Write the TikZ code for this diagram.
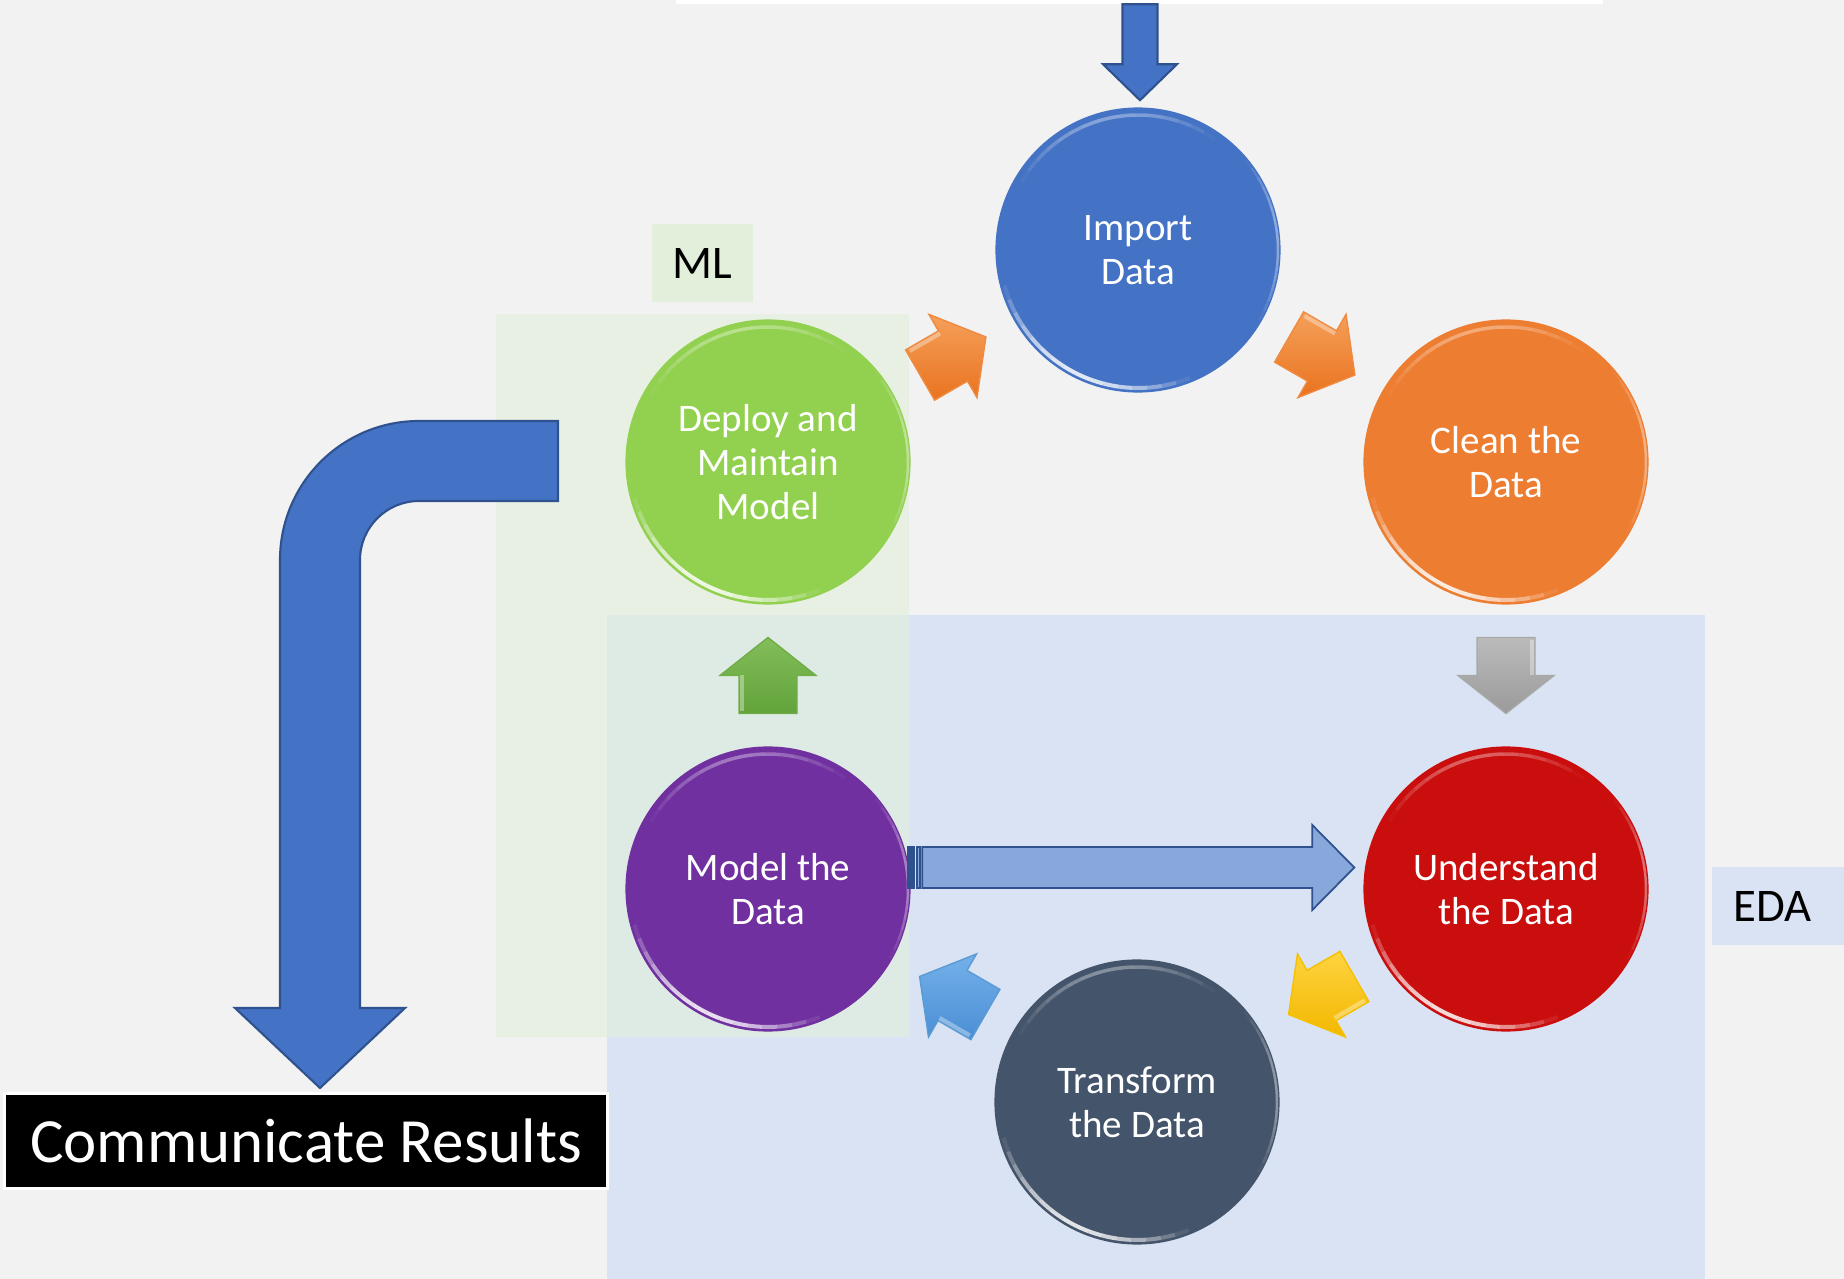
\documentclass[tikz,border=0pt]{standalone}
\usepackage{fontspec}
\setmainfont{Carlito}
\usetikzlibrary{calc}

\definecolor{bgray}{HTML}{F2F2F2}
\definecolor{edafill}{HTML}{DAE3F3}
\definecolor{mlfill}{HTML}{E2EFDA}
\definecolor{impblue}{HTML}{4472C4}
\definecolor{cleanorange}{HTML}{ED7D31}
\definecolor{deploygreen}{HTML}{92D050}
\definecolor{modelpurple}{HTML}{7030A0}
\definecolor{undred}{HTML}{CA0D0D}
\definecolor{transslate}{HTML}{44546A}
\definecolor{bluedge}{HTML}{2F528F}
\definecolor{paleblue}{HTML}{88A7DB}
\definecolor{orL}{HTML}{F5A05A}\definecolor{orD}{HTML}{E9731F}\definecolor{orE}{HTML}{F08A40}
\definecolor{grL}{HTML}{BBBBBB}\definecolor{grD}{HTML}{9A9A9A}\definecolor{grE}{HTML}{A8A8A8}
\definecolor{gnL}{HTML}{82BE5A}\definecolor{gnD}{HTML}{63A33A}\definecolor{gnE}{HTML}{70AD47}
\definecolor{blL}{HTML}{74B1EA}\definecolor{blD}{HTML}{4A8ED4}\definecolor{blE}{HTML}{5B9BD5}
\definecolor{ylL}{HTML}{FFD340}\definecolor{ylD}{HTML}{F2B800}\definecolor{ylE}{HTML}{F5C000}

% soft tapered highlight arc inside a round stage
\newcommand\stageglint[6]{%
  \foreach \k in {0,...,15}{%
    \pgfmathsetmacro\ga{#3+(#4-#3)*\k/16}%
    \pgfmathsetmacro\gb{#3+(#4-#3)*(\k+1)/16}%
    \pgfmathsetmacro\go{#6*sin(180*(\k+0.5)/16)}%
    \draw[white, line width=#5*0.01cm, opacity=\go, shift={(#1)}]
      (\ga:#2) arc[start angle=\ga, end angle=\gb, radius=#2];
  }}
\newcommand\stageshine[1]{%
  \stageglint{#1}{135}{55}{150}{3.5}{0.35}%
  \stageglint{#1}{138}{195}{292}{4}{0.85}%
  \stageglint{#1}{140}{-30}{40}{2.5}{0.4}%
}

\tikzset{
  stage/.style={circle, minimum size=2.85cm, inner sep=0pt, fill=#1,
    text=white, align=center,
    font=\fontsize{11.1pt}{12.5pt}\selectfont},
  tag/.style={text=black, inner sep=0pt, font=\fontsize{13.3pt}{15pt}\selectfont},
  bigarrow/.style={fill=impblue, draw=bluedge, line width=0.6pt, line join=miter},
  pics/blockarrow/.style n args={3}{code={
    \shade[top color=#1, bottom color=#2, draw=#3, line width=0.4pt, line join=miter]
      (-38,-29) -- (0,-29) -- (0,-48) -- (38,0) -- (0,48) -- (0,29) -- (-38,29) -- cycle;
    \draw[white, opacity=0.35, line width=1.2pt]
      (-35,26) -- (0,26);
  }}
}

\begin{document}
\begin{tikzpicture}[x=0.01cm, y=0.01cm]
  % canvas
  \fill[bgray] (0,0) rectangle (1844,-1279);
  \useasboundingbox (0,0) rectangle (1844,-1279);
  \fill[white] (676,0) rectangle (1603,-4);

  % EDA and ML areas
  \fill[edafill] (607,-615) rectangle (1705,-1279);
  \fill[mlfill, opacity=0.6] (496,-314) rectangle (909,-1037);
  \node[tag, fill=mlfill, minimum width=1.01cm, minimum height=0.78cm] (ml) at (702.5,-263) {ML};
  \fill[edafill] (1712,-867) rectangle (1844,-945);
  \node[tag] (eda) at (1772.5,-906.5) {EDA};

  % bent arrow down to the results
  \path[bigarrow] (558,-421) -- (419,-421)
      arc[start angle=90, end angle=180, radius=139]
      -- (280,-1008) -- (235,-1008) -- (320,-1088) -- (405,-1008) -- (360,-1008)
      -- (360,-560) arc[start angle=180, end angle=90, radius=59]
      -- (558,-501) -- cycle;

  % stages
  \node[stage=impblue]     (import)     at (1138,-250) {Import\\Data};
  \node[stage=cleanorange] (clean)      at (1506,-462) {Clean the\\Data};
  \node[stage=deploygreen] (deploy)     at (768,-462)  {Deploy and\\Maintain\\Model};
  \node[stage=modelpurple] (model)      at (768,-889)  {Model the\\Data};
  \node[stage=undred]      (understand) at (1506,-889) {Understand\\the Data};
  \node[stage=transslate]  (transform)  at (1137,-1102) {Transform\\the Data};
  \foreach \s in {import,clean,deploy,model,understand,transform}{\stageshine{\s}}

  % cycle arrows
  \pic[rotate=30]  at ($(deploy)!0.5!(import)$)        {blockarrow={orL}{orD}{orE}};
  \pic[rotate=-30] at ($(import)!0.5!(clean)$)         {blockarrow={orL}{orD}{orE}};
  \pic[rotate=-90] at ($(clean)!0.5!(understand)$)     {blockarrow={grL}{grD}{grE}};
  \pic[rotate=210] at ($(understand)!0.5!(transform)$) {blockarrow={ylL}{ylD}{ylE}};
  \pic[rotate=150] at ($(transform)!0.5!(model)$)      {blockarrow={blL}{blD}{blE}};
  \pic[rotate=90]  at ($(model)!0.5!(deploy)$)         {blockarrow={gnL}{gnD}{gnE}};

  % striped arrow from modelling back to understanding
  \coordinate (hs) at ($(model.east)+(-3,21.5)$);
  \begin{scope}[shift={(hs)}, fill=paleblue, draw=bluedge, line width=0.5pt, line join=miter]
    \filldraw[fill=bluedge] (0,-20.5) rectangle (6,20.5);
    \filldraw (8.5,-20.5) rectangle (12,20.5);
    \filldraw (14,-20.5) -- (404,-20.5) -- (404,-42.5) -- (446,0)
      -- (404,42.5) -- (404,20.5) -- (14,20.5) -- cycle;
  \end{scope}

  % incoming data arrow
  \coordinate (intip) at ($(import.north)+(2,6.5)$);
  \path[bigarrow, shift={(intip)}] (-17.5,96) -- (-17.5,36) -- (-37,36) -- (0,0)
      -- (37,36) -- (17.5,36) -- (17.5,96) -- cycle;

  % results
  \node[fill=black, draw=white, line width=0.85pt, minimum width=6.03cm,
        minimum height=0.95cm, inner sep=0pt, text=white,
        font=\fontsize{17.9pt}{20pt}\selectfont] (comm) at (306,-1141) {Communicate Results};
\end{tikzpicture}
\end{document}
